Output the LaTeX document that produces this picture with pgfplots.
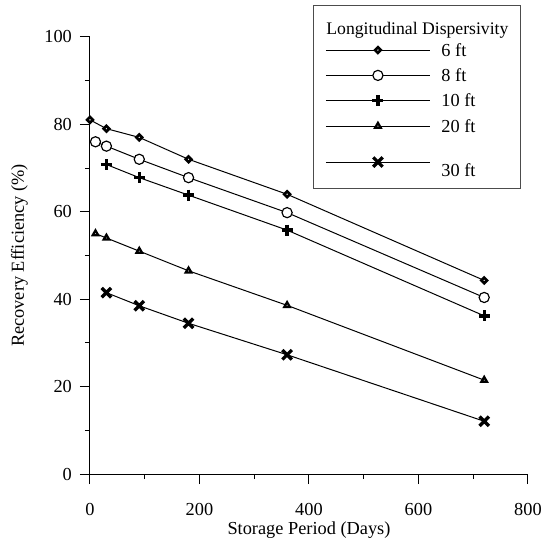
\documentclass[border=0pt]{standalone}
\usepackage{fontspec}
\setmainfont{Liberation Serif}
\usepackage{pgfplots}
\pgfplotsset{compat=1.18}
\begin{document}
\fontsize{11}{13}\selectfont
\begin{tikzpicture}
\useasboundingbox (-54pt,-38.9pt) rectangle (272.4pt,284.5pt);
\begin{axis}[
  scale only axis, width=262.8pt, height=262.4pt,
  xmin=0, xmax=800, ymin=0, ymax=100,
  axis x line*=bottom, axis y line*=left,
  axis line style={-, line width=0.6pt},
  xtick={0,200,...,800}, ytick={0,20,...,100},
  minor x tick num=1, minor y tick num=1,
  tick align=outside,
  major tick length=6pt, minor tick length=3pt,
  every tick/.style={black, line width=0.6pt},
  xticklabel style={yshift=-7.5pt},
  yticklabel style={xshift=-1pt},
  /pgf/number format/assume math mode=true,
  xlabel={Storage Period (Days)},
  ylabel={Recovery Efficiency (\%)},
  xlabel style={at={(axis description cs:0.5,-0.127)}, anchor=center},
  ylabel style={at={(axis description cs:-0.161,0.5)}, anchor=center},
  clip=false,
  legend cell align=left,
  legend style={at={(rel axis cs:0.984,1.073)}, anchor=north east,
    draw=black!70, line width=0.6pt, inner xsep=7.2pt, inner ysep=2pt,
    row sep=0pt, column sep=6.6pt,
    cells={anchor=base west},
    nodes={inner sep=0pt, text depth=, text height=, anchor=base west}},
  legend image code/.code={\draw[mark repeat=2,mark phase=2,#1,yshift=3.7pt] plot coordinates {(0pt,0pt) (31.2pt,0pt) (62.4pt,0pt)};},
]
\addlegendimage{empty legend}
\addlegendentry{\hspace{-69pt}\rule{0pt}{15.3pt}\raisebox{0pt}[\height][0pt]{\fontsize{10.6}{12}\selectfont Longitudinal Dispersivity}}

\addplot[black, line width=0.6pt, mark=square*, mark size=1.2pt,
  mark options={rotate=45, fill=white, draw=black, line width=1.6pt, solid}]
  coordinates {(0,81) (30,79) (90,77) (180,72) (360,64) (720,44.3)};
\addlegendentry{\rule[-2pt]{0pt}{15.2pt}6 ft}

\addplot[black, line width=0.6pt, mark=*, mark size=3.05pt,
  mark options={fill=white, draw=black, line width=0.7pt, solid}]
  coordinates {(10,76) (30,75) (90,72) (180,67.8) (360,59.8) (720,40.4)};
\addlegendentry{\rule[-2pt]{0pt}{15.2pt}8 ft}

\addplot[black, line width=0.6pt, mark=+, mark size=3.3pt,
  mark options={draw=black, line width=2pt, solid}]
  coordinates {(30,70.8) (90,67.8) (180,63.8) (360,55.8) (720,36.2)};
\addlegendentry{\rule[-2pt]{0pt}{15.2pt}10 ft}

\addplot[black, line width=0.6pt, mark=triangle*, mark size=1.9pt,
  mark options={fill=white, draw=black, line width=1.36pt, solid}]
  coordinates {(10,55) (30,54) (90,51) (180,46.5) (360,38.6) (720,21.5)};
\addlegendentry{\rule[-2pt]{0pt}{15.2pt}20 ft}

\addplot[black, line width=0.6pt, mark=x, mark size=4pt,
  mark options={draw=black, line width=2pt, solid}]
  coordinates {(30,41.5) (90,38.5) (180,34.5) (360,27.3) (720,12.1)};
\addlegendentry{\rule[-10pt]{0pt}{29.6pt}\raisebox{-4.8pt}{30 ft}}
\end{axis}
\end{tikzpicture}
\end{document}
